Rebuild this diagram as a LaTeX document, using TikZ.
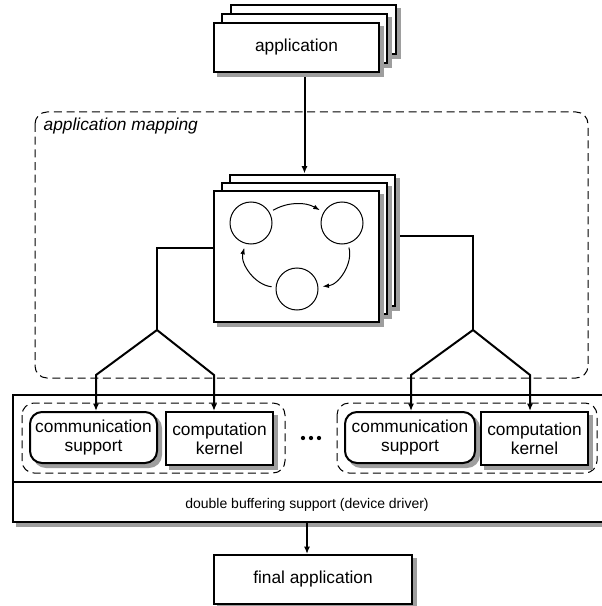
\documentclass[tikz,border=0pt]{standalone}
\usepackage{fontspec}
\setmainfont{Liberation Sans}
\usetikzlibrary{arrows.meta}
\pgfdeclarelayer{back}
\pgfdeclarelayer{mid}
\pgfsetlayers{back,mid,main}
\tikzset{
  sheet/.style={draw, fill=white, line width=1.5pt, inner sep=0pt, align=center,
    font=\fontsize{13}{14.5}\selectfont},
  roundsheet/.style={sheet, rounded corners=9pt},
  appsheet/.style={sheet, minimum width=123.75pt, minimum height=36.75pt},
  mapsheet/.style={sheet, minimum width=123.75pt, minimum height=98.25pt},
  shd/.style={draw=black!38, fill=black!38},
  stnode/.style={circle, draw, line width=0.75pt, minimum size=31.5pt, inner sep=0pt},
  wire/.style={line width=1.5pt},
  arrowhd/.style={-{Latex[length=5.5pt,width=4.5pt]}},
  thinhd/.style={line width=0.75pt, -{Latex[length=5pt,width=3.5pt]}, shorten <=3pt, shorten >=3pt},
  grp/.style={draw, line width=0.75pt, dash pattern=on 6pt off 3.5pt, rounded corners=9pt},
}
% box with its grey shadow: style, name, position, text
\newcommand{\sheetnode}[4]{%
  \node[#1, shd] (#2-shd) at (#3) [xshift=3pt, yshift=-3pt] {};
  \node[#1] (#2) at (#3) {#4};
}
\begin{document}
\begin{tikzpicture}[x=0.75pt,y=-0.75pt]
\useasboundingbox (0,0) rectangle (602,606);

\begin{pgfonlayer}{back}
%Shape: Rounded Rect [application mapping]
\draw[grp] (35,112) rectangle (588,378);
% Text Node
\node[font=\fontsize{13}{14.5}\selectfont\itshape, anchor=base west] (maplbl) at (39,131) {application mapping};

%Shape: Rectangle [platform]
\sheetnode{sheet, minimum width=455.25pt, minimum height=95.25pt}{drv}{316.5,458.5}{}
\coordinate (sep) at (20,482);
\draw[wire] (drv.west |- sep) -- (drv.east |- sep);
% Text Node
\node[font=\fontsize{10.5}{12}\selectfont, anchor=base] (drvlbl) at (307,508) {double buffering support (device driver)};

%Shape: Rounded Rect [groups]
\draw[grp] (22,403) rectangle (285,473);
\draw[grp] (337,403) rectangle (597,473);
\end{pgfonlayer}

%Shape: Rectangle [application stack]
\sheetnode{appsheet}{app3}{313,30}{}
\sheetnode{appsheet}{app2}{304.5,38.5}{}
\sheetnode{appsheet}{app}{296.5,47.5}{application}

%Shape: Rectangle [mapping stack]
\sheetnode{mapsheet}{map3}{312.5,240}{}
\sheetnode{mapsheet}{map2}{304.5,248}{}
\sheetnode{mapsheet}{map}{296.5,256.5}{}

%Shape: Circle [states]
\node[stnode] (st1) at (251,223) {};
\node[stnode] (st2) at (342,223) {};
\node[stnode] (st3) at (297,289) {};
\draw[thinhd] (st1) to[bend left=30] (st2);
\draw[thinhd] (st2) to[bend left=50] (st3);
\draw[thinhd] (st3) to[bend left=50] (st1);

%Shape: Rectangle [kernels]
\sheetnode{roundsheet, minimum width=95.25pt, minimum height=38.25pt}{comm1}{93.5,437.5}{communication\\support}
\sheetnode{sheet, minimum width=80.25pt, minimum height=39.75pt}{comp1}{219.5,438.5}{computation\\kernel}
\sheetnode{roundsheet, minimum width=97.5pt, minimum height=38.25pt}{comm2}{410,437.5}{communication\\support}
\sheetnode{sheet, minimum width=80.25pt, minimum height=39.75pt}{comp2}{534.5,438.5}{computation\\kernel}

%Shape: Circle [dots]
\foreach \dx in {303,311,319}
  \fill (\dx,438) circle (1.6pt);

%Shape: Rectangle [final]
\sheetnode{sheet, minimum width=148.5pt, minimum height=36.75pt}{final}{313,579.5}{final application}

\begin{pgfonlayer}{mid}
%Straight Lines
\draw[wire, arrowhd] (app.south -| app2.south) -- (map3.north -| app2.south);
\coordinate (lbend) at (157,248);
\coordinate (lsplit) at (157,330);
\coordinate (lout1) at (96,375);
\coordinate (lout2) at (214,375);
\draw[wire] (lbend -| map.west) -- (lbend) -- (lsplit);
\draw[wire, arrowhd] (lsplit) -- (lout1) -- (lout1 |- comm1.north);
\draw[wire, arrowhd] (lsplit) -- (lout2) -- (lout2 |- comp1.north);
\coordinate (rbend) at (473,236);
\coordinate (rsplit) at (473,330);
\coordinate (rout1) at (411,375);
\coordinate (rout2) at (530,375);
\draw[wire] (rbend -| map3.east) -- (rbend) -- (rsplit);
\draw[wire, arrowhd] (rsplit) -- (rout1) -- (rout1 |- comm2.north);
\draw[wire, arrowhd] (rsplit) -- (rout2) -- (rout2 |- comp2.north);
\draw[wire, arrowhd] (drv.south -| drvlbl.base) -- (final.north -| drvlbl.base);
\end{pgfonlayer}

\end{tikzpicture}
\end{document}
